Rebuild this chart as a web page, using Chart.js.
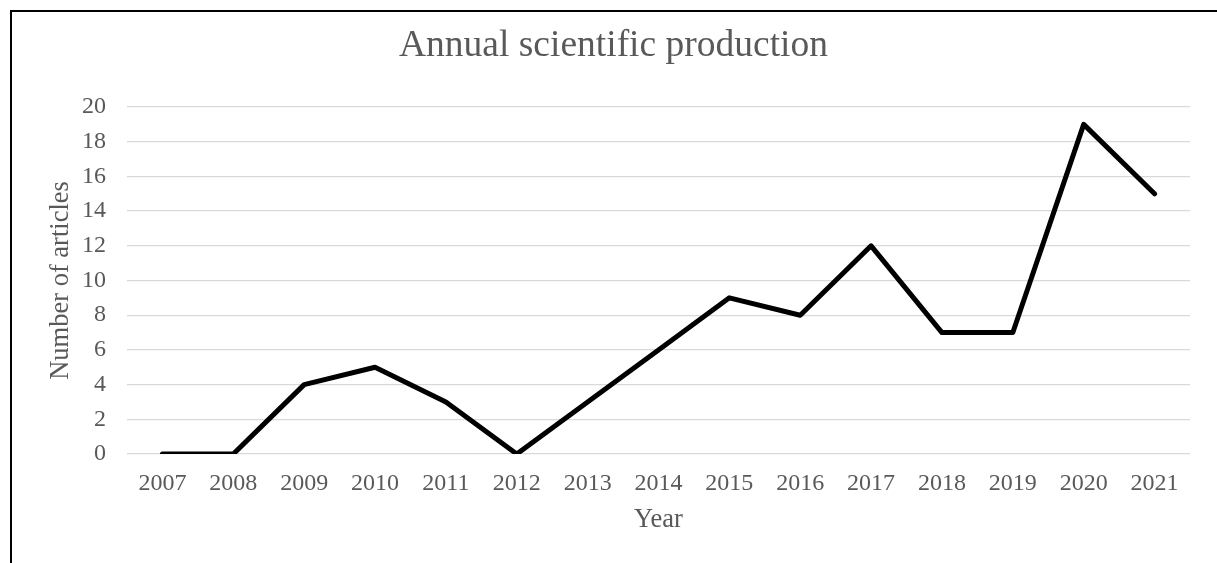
<!DOCTYPE html>
<html>
<head>
<meta charset="utf-8">
<script src="https://cdn.jsdelivr.net/npm/chart.js@4/dist/chart.umd.min.js"></script>
<style>
  html, body { margin: 0; padding: 0; background: #fff; overflow: hidden; }
  #frame {
    position: absolute; left: 10px; top: 10px;
    width: 1300px; height: 700px;
    border-top: 2px solid #000; border-left: 2px solid #000;
  }
  #wrap { position: absolute; left: 0; top: 0; width: 1217px; height: 563px; }
</style>
</head>
<body>
<div id="frame"></div>
<div id="wrap"><canvas id="prodChart"></canvas></div>
<script>
// chart data
const years = ["2007", "2008", "2009", "2010", "2011", "2012", "2013", "2014",
               "2015", "2016", "2017", "2018", "2019", "2020", "2021"];
const articles = [0, 0, 4, 5, 3, 0, 3, 6, 9, 8, 12, 7, 7, 19, 15];
const yTicks = [0, 2, 4, 6, 8, 10, 12, 14, 16, 18, 20];

const FONT = "'Liberation Serif', 'Times New Roman', serif";
const GREY = "#595959";

new Chart(document.getElementById("prodChart"), {
    type: "line",
    data: {
        labels: years,
        datasets: [{
            label: "Number of articles",
            data: articles,
            borderColor: "#000",
            borderWidth: 5,
            borderCapStyle: "round",
            borderJoinStyle: "round",
            pointRadius: 0,
            tension: 0,
            fill: false
        }]
    },
    options: {
        responsive: true,
        maintainAspectRatio: false,
        animation: false,
        // left/right padding also centres the title where the original has it
        layout: { padding: { left: 37, right: 27, top: 0, bottom: 0 } },
        plugins: {
            legend: { display: false },
            tooltip: { enabled: false },
            title: {
                display: true,
                text: "Annual scientific production",
                color: GREY,
                font: { family: FONT, size: 37.5, weight: "normal" },
                padding: { top: 24, bottom: 38 }
            }
        },
        scales: {
            x: {
                offset: true,
                grid: { display: false, drawTicks: false },
                border: { display: false },
                ticks: {
                    color: GREY,
                    font: { family: FONT, size: 24 },
                    padding: 15,
                    maxRotation: 0,
                    autoSkip: false
                },
                title: {
                    display: true,
                    text: "Year",
                    color: GREY,
                    font: { family: FONT, size: 26.5 },
                    padding: { top: 0, bottom: 27 }
                },
                afterFit: (scale) => { scale.height = 109; }
            },
            y: {
                min: 0,
                max: 20,
                grid: { color: "#d9d9d9", lineWidth: 1.3, drawTicks: false },
                border: { display: false },
                afterBuildTicks: (scale) => {
                    scale.ticks = yTicks.map(v => ({ value: v }));
                },
                ticks: {
                    color: GREY,
                    font: { family: FONT, size: 24 },
                    padding: 21
                },
                title: {
                    display: true,
                    text: "Number of articles",
                    color: GREY,
                    font: { family: FONT, size: 26.5 },
                    padding: { top: 8, bottom: 0 }
                },
                afterFit: (scale) => { scale.width = 90; }
            }
        }
    }
});
</script>
</body>
</html>
